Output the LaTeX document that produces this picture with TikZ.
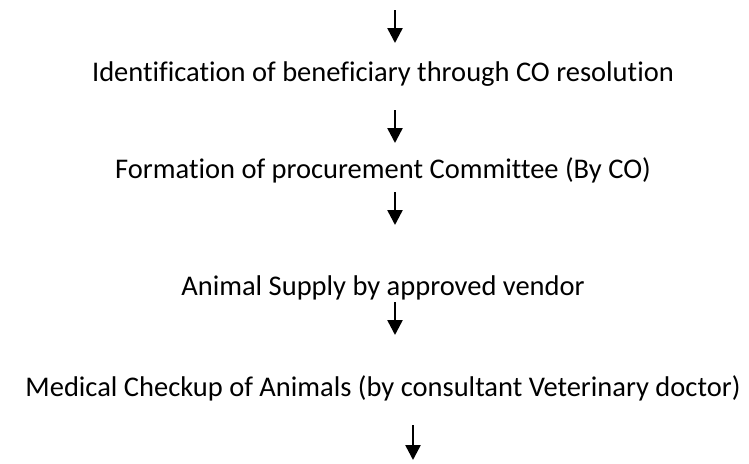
\documentclass[tikz,border=0pt]{standalone}
\usepackage{fontspec}
\setmainfont{Carlito}[Ligatures=NoCommon]
\usetikzlibrary{positioning,arrows.meta}

\begin{document}
\begin{tikzpicture}[
  x=1pt, y=-1pt,
  stage/.style={font=\fontsize{28.5}{34}\selectfont, inner sep=0pt, anchor=base},
  flow/.style={-{Triangle[length=15pt,width=15pt]}, line width=2.5pt},
]
\useasboundingbox (0,0) rectangle (749,463);

% the steps, top to bottom
\node[stage] (ident)  at (383,81)  {Identification of beneficiary through CO resolution};
\node[stage] (form)   at (383,178) {Formation of procurement Committee (By CO)};
\node[stage] (supply) at (383,295) {Animal Supply by approved vendor};
\node[stage] (check)  at (383,396) {Medical Checkup of Animals (by consultant Veterinary doctor)};

\coordinate (in)  at (395,10);
\coordinate (out) at (413,460);

% arrows
\draw[flow] (in) -- ++(0,33);
\draw[flow] (ident.base -| in) ++(0,29) -- ++(0,33);
\draw[flow] (form.base -| in) ++(0,14) -- ++(0,33);
\draw[flow] (supply.base -| in) ++(0,7) -- ++(0,33);
\draw[flow] (out) ++(0,-35) -- (out);
\end{tikzpicture}
\end{document}
